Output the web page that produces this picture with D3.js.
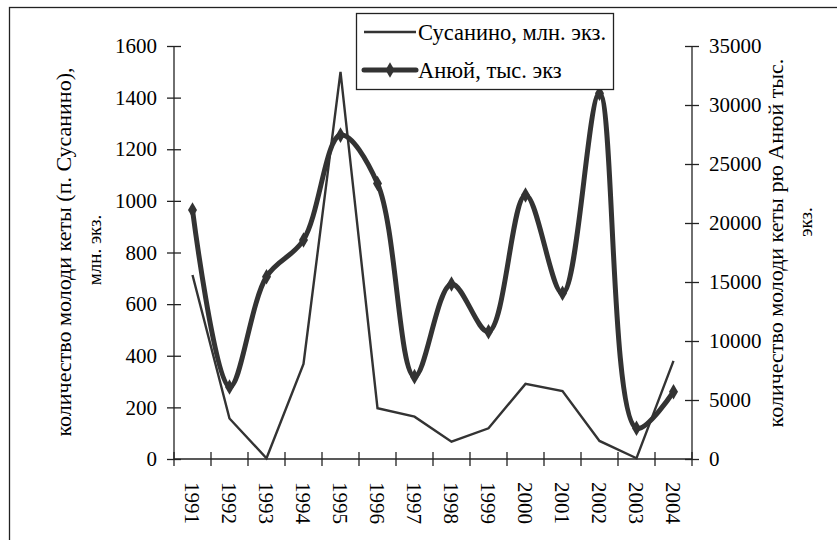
<!DOCTYPE html>
<html>
<head>
<meta charset="utf-8">
<script src="https://cdn.jsdelivr.net/npm/d3@7"></script>
<style>
  html, body { margin: 0; padding: 0; background: #fff; }
  svg { display: block; }
  svg text { font-family: "Liberation Serif", "Tinos", "Times New Roman", "DejaVu Serif", serif !important; }
</style>
</head>
<body>
<svg id="chart" width="837" height="540"></svg>
<script>
const years     = ['1991','1992','1993','1994','1995','1996','1997','1998','1999','2000','2001','2002','2003','2004'];
const susanino  = [713, 157, 3, 368, 1500, 197, 164, 67, 119, 291, 263, 70, 3, 380];   // млн. экз.
const anuy      = [21100, 6100, 15450, 18560, 27450, 23350, 6980, 14830, 10790, 22370, 14040, 30990, 2600, 5700]; // тыс. экз
const leftTicks  = [0, 200, 400, 600, 800, 1000, 1200, 1400, 1600];
const rightTicks = [0, 5000, 10000, 15000, 20000, 25000, 30000, 35000];

const LINE_COLOR = '#333';
const AXIS_COLOR = '#222';
const SERIF = '"Liberation Serif", "Times New Roman", serif';

const PLOT = { left: 174, right: 692, top: 46, bottom: 459 };

const svg = d3.select('#chart');

// outer frame (cut off at right and bottom)
svg.append('rect')
  .attr('x', 9.5).attr('y', 7.5)
  .attr('width', 900).attr('height', 600)
  .attr('fill', 'none').attr('stroke', '#222').attr('stroke-width', 1.3);

const x = d3.scaleBand().domain(years).range([PLOT.left, PLOT.right]);
const yL = d3.scaleLinear().domain([0, 1600]).range([PLOT.bottom, PLOT.top]);
const yR = d3.scaleLinear().domain([0, 35000]).range([PLOT.bottom, PLOT.top]);

// ── Axes ──────────────────────────────────────────────────────────
const fontSize = 21;

const gLeft = svg.append('g').attr('transform', `translate(${PLOT.left},0)`)
  .call(d3.axisLeft(yL).tickValues(leftTicks).tickSize(7).tickPadding(10).tickFormat(d3.format('d')));
gLeft.selectAll('.tick line').attr('x2', 7).attr('x1', -7);

const gRight = svg.append('g').attr('transform', `translate(${PLOT.right},0)`)
  .call(d3.axisRight(yR).tickValues(rightTicks).tickSize(7).tickPadding(10).tickFormat(d3.format('d')));
gRight.selectAll('.tick line').attr('x1', -7).attr('x2', 7);

// x axis: ticks at category boundaries, crossing the axis
const gBottom = svg.append('g').attr('transform', `translate(0,${PLOT.bottom})`);
gBottom.append('line')
  .attr('x1', PLOT.left).attr('x2', PLOT.right)
  .attr('stroke', AXIS_COLOR).attr('stroke-width', 1.3);
const boundaries = years.map(d => x(d)).concat([x(years[years.length - 1]) + x.bandwidth()]);
gBottom.selectAll('line.bt').data(boundaries).join('line')
  .attr('class', 'bt')
  .attr('x1', d => d).attr('x2', d => d)
  .attr('y1', -7).attr('y2', 7)
  .attr('stroke', AXIS_COLOR).attr('stroke-width', 1.3);
gBottom.selectAll('text.yl').data(years).join('text')
  .attr('class', 'yl')
  .attr('transform', d => `translate(${x(d) + x.bandwidth() / 2 - 1},23) rotate(90)`)
  .attr('dominant-baseline', 'central')
  .attr('font-size', fontSize)
  .attr('fill', '#000')
  .text(d => d);

[gLeft, gRight].forEach(g => {
  g.attr('font-family', SERIF);
  g.select('.domain').attr('stroke', AXIS_COLOR).attr('stroke-width', 1.3);
  g.selectAll('.tick line').attr('stroke', AXIS_COLOR).attr('stroke-width', 1.3);
  g.selectAll('.tick text')
    .attr('font-size', fontSize)
    .attr('fill', '#000');
});
gLeft.select('.domain').attr('d', `M0,${PLOT.top}V${PLOT.bottom}`);
gRight.select('.domain').attr('d', `M0,${PLOT.top}V${PLOT.bottom}`);

// ── Axis titles ───────────────────────────────────────────────────
function title(tx, ty, size, txt) {
  svg.append('text')
    .attr('transform', `translate(${tx},${ty}) rotate(-90)`)
    .attr('text-anchor', 'middle').attr('dominant-baseline', 'central')
    .attr('font-size', size).attr('fill', '#000')
    .text(txt);
}
title(63, 252, 22, 'количество молоди кеты (п. Сусанино),');
title(94, 250, 19, 'млн. экз.');
title(775, 243, 22, 'количество молоди кеты рю Анюй тыс.');
title(805, 222, 19, 'экз.');

// ── Series ────────────────────────────────────────────────────────
const cx = d => x(d) + x.bandwidth() / 2;

const lineS = d3.line()
  .x((d, i) => cx(years[i]))
  .y(d => yL(d));

svg.append('path')
  .datum(susanino)
  .attr('d', lineS)
  .attr('fill', 'none')
  .attr('stroke', LINE_COLOR)
  .attr('stroke-width', 2.4)
  .attr('stroke-linejoin', 'miter');

const lineA = d3.line()
  .x((d, i) => cx(years[i]))
  .y(d => yR(d))
  .curve(d3.curveCatmullRom.alpha(0.5));

svg.append('path')
  .datum(anuy)
  .attr('d', lineA)
  .attr('fill', 'none')
  .attr('stroke', LINE_COLOR)
  .attr('stroke-width', 5)
  .attr('stroke-linejoin', 'round');

const diamond = d3.symbol().type(d3.symbolDiamond).size(70);
svg.selectAll('path.mk').data(anuy).join('path')
  .attr('class', 'mk')
  .attr('transform', (d, i) => `translate(${cx(years[i])},${yR(d)})`)
  .attr('d', diamond)
  .attr('fill', LINE_COLOR);

// ── Legend ────────────────────────────────────────────────────────
const lg = svg.append('g');
lg.append('rect')
  .attr('x', 356.5).attr('y', 13.5)
  .attr('width', 257).attr('height', 76)
  .attr('fill', '#fff').attr('stroke', '#222').attr('stroke-width', 1.3);

lg.append('line')
  .attr('x1', 364).attr('x2', 416).attr('y1', 32).attr('y2', 32)
  .attr('stroke', LINE_COLOR).attr('stroke-width', 2.4);
lg.append('text')
  .attr('x', 418).attr('y', 32)
  .attr('dominant-baseline', 'central')
  .attr('font-size', 22.5).attr('fill', '#000')
  .text('Сусанино, млн. экз.');

lg.append('line')
  .attr('x1', 364).attr('x2', 416).attr('y1', 70).attr('y2', 70)
  .attr('stroke', LINE_COLOR).attr('stroke-width', 5).attr('stroke-linecap', 'round');
lg.append('path')
  .attr('transform', 'translate(390,70)')
  .attr('d', diamond)
  .attr('fill', LINE_COLOR);
lg.append('text')
  .attr('x', 418).attr('y', 70)
  .attr('dominant-baseline', 'central')
  .attr('font-size', 22.5).attr('fill', '#000')
  .text('Анюй, тыс. экз');
</script>
</body>
</html>
